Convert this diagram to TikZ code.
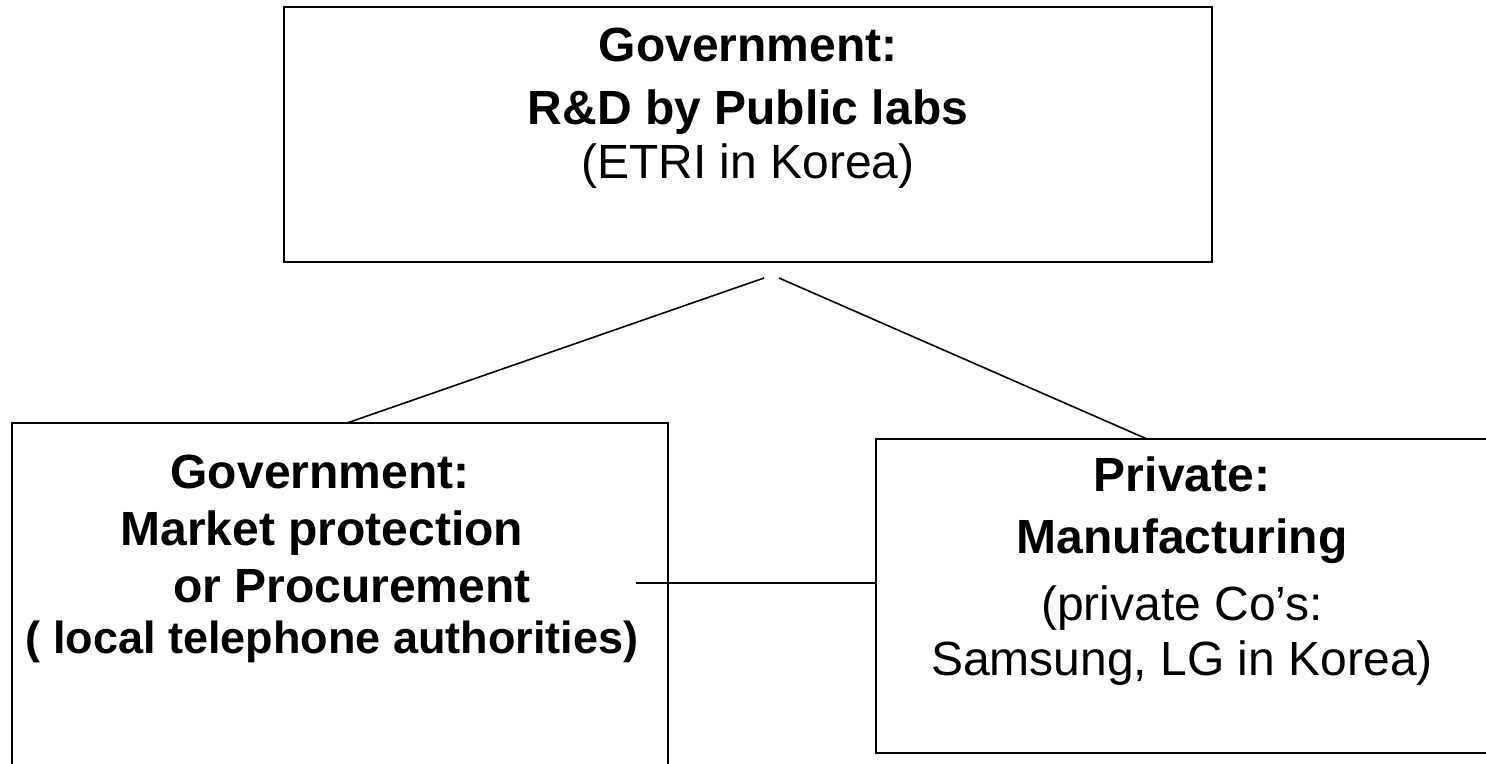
\documentclass[tikz,border=0pt]{standalone}
\usepackage{fontspec}
\setmainfont{Liberation Sans}
\begin{document}
\begin{tikzpicture}[x=0.5pt,y=-0.5pt,
  box/.style={draw,line width=1.1pt,inner sep=0pt},
  conn/.style={line width=0.8pt},
  bt/.style={inner sep=0pt,anchor=base,font=\fontsize{24}{28}\selectfont\bfseries},
  rt/.style={inner sep=0pt,anchor=base,font=\fontsize{24}{28}\selectfont},
  lbt/.style={inner sep=0pt,anchor=base,font=\fontsize{24}{28}\selectfont\bfseries},
  sbt/.style={inner sep=0pt,anchor=base,font=\fontsize{22.5}{26}\selectfont\bfseries}]
\useasboundingbox (0,0) rectangle (1486,764);
\clip (0,0) rectangle (1486,764);
% boxes
\node[box,minimum width=464pt,minimum height=127.5pt] (top) at (748,134.5) {};
\node[box,minimum width=328pt,minimum height=188.5pt] (lbox) at (340,611.5) {};
\node[box,minimum width=312pt,minimum height=157pt] (rbox) at (1188,596) {};
% texts
\node[bt] (t1) at (748,62) {Government:};
\node[bt] (t2) at (748,125) {R\&D by Public labs};
\node[rt] (t3) at (748,179) {(ETRI in Korea)};
\node[lbt] (l1) at (320,488) {Government:};
\node[lbt] (l2) at (322,545) {Market protection};
\node[lbt] (l3) at (352,602) {or Procurement};
\node[sbt] (l4) at (332,653) {( local telephone authorities)};
\node[bt] (r1) at (1182,491) {Private:};
\node[bt] (r2) at (1182,553) {Manufacturing};
\node[rt] (r3) at (1182,620) {(private Co’s:};
\node[rt] (r4) at (1182,675) {Samsung, LG in Korea)};
% connectors
\coordinate (apexL) at (764,278);
\coordinate (apexR) at (779,278);
\coordinate (lfoot) at (347,423);
\coordinate (rfoot) at (1147,439);
\coordinate (hstart) at (636,583);
\draw[conn] (lfoot) -- (apexL);
\draw[conn] (apexR) -- (rfoot);
\draw[conn] (hstart) -- (hstart -| rbox.west);
\end{tikzpicture}
\end{document}
